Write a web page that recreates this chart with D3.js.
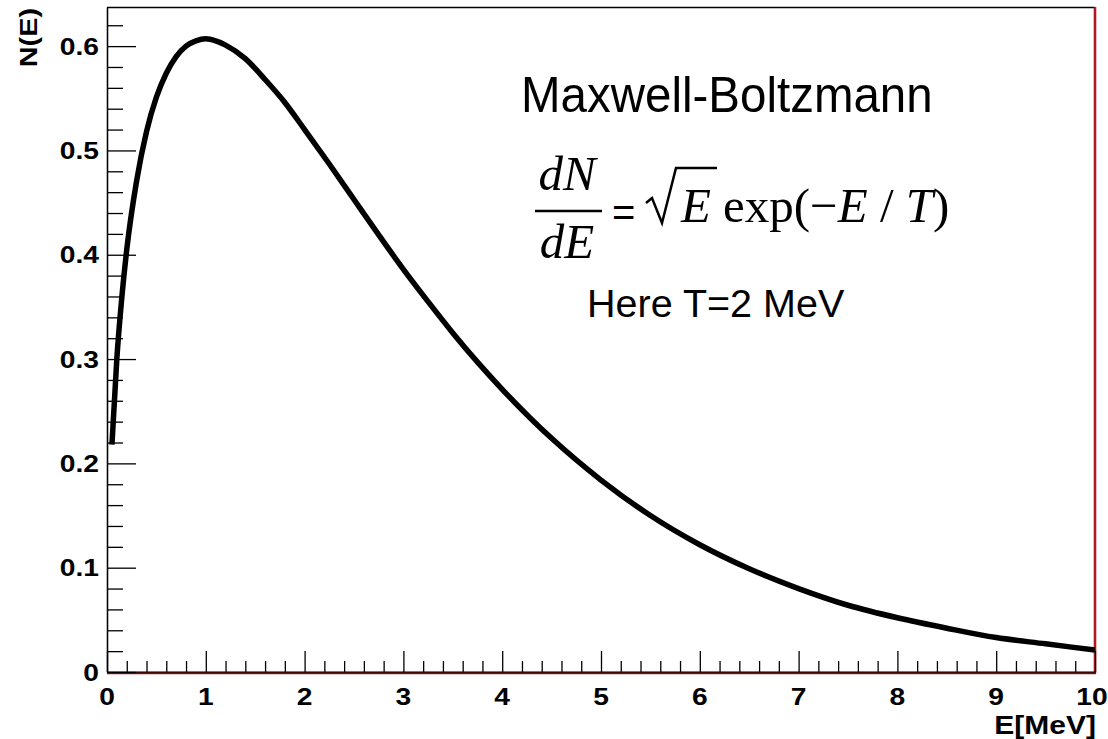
<!DOCTYPE html>
<html>
<head>
<meta charset="utf-8">
<script src="https://cdn.jsdelivr.net/npm/d3@7"></script>
<style>
  html, body { margin: 0; padding: 0; background: #fff; }
  svg { display: block; }
</style>
</head>
<body>
<svg id="chart" width="1108" height="739"></svg>
<script>
// ---- data ----
const energy = [0.05,0.1,0.15,0.2,0.3,0.4,0.5,0.6,0.7,0.8,0.9,1.0,1.1,1.2,1.4,1.6,1.8,2.0,2.25,2.5,2.75,3.0,3.25,3.5,3.75,4.0,4.5,5.0,5.5,6.0,6.5,7.0,7.5,8.0,8.5,9.0,9.5,10.0];
const counts = [0.218,0.301,0.359,0.405,0.471,0.518,0.551,0.574,0.590,0.600,0.605,0.607,0.605,0.601,0.588,0.568,0.546,0.520,0.487,0.453,0.419,0.386,0.355,0.325,0.297,0.271,0.224,0.184,0.150,0.122,0.099,0.080,0.064,0.052,0.042,0.033,0.027,0.021];
const xTicks = [0,1,2,3,4,5,6,7,8,9,10];
const xTickLabels = ["0","1","2","3","4","5","6","7","8","9","10"];
const yTicks = [0,0.1,0.2,0.3,0.4,0.5,0.6];
const yTickLabels = ["0","0.1","0.2","0.3","0.4","0.5","0.6"];
const xTitle = "E[MeV]";
const yTitle = "N(E)";
const title = "Maxwell-Boltzmann";
const note = "Here T=2 MeV";

// ---- layout ----
const svg = d3.select("#chart");
const L = 107, R = 1095, T = 7, B = 672;
const x = d3.scaleLinear().domain([0, 10]).range([L, R]);
const y = d3.scaleLinear().domain([0, 0.6375]).range([B, T]);

const boldFont = "'Liberation Sans', Arial, Helvetica, sans-serif";

// frame: top black, right red
svg.append("line").attr("x1", L).attr("x2", R).attr("y1", T + 0.5).attr("y2", T + 0.5)
  .attr("stroke", "#000").attr("stroke-width", 1.3);
svg.append("line").attr("x1", R).attr("x2", R).attr("y1", T).attr("y2", B + 1)
  .attr("stroke", "#b01822").attr("stroke-width", 2.6);
// bottom red under the axis
svg.append("line").attr("x1", L).attr("x2", R + 1).attr("y1", B + 1).attr("y2", B + 1)
  .attr("stroke", "#b01822").attr("stroke-width", 2.4);

// minor ticks
const xMinor = d3.range(0, 10.001, 0.2).filter(v => Math.abs(v - Math.round(v)) > 1e-6);
const yMinor = d3.range(0, 0.6375, 0.02).filter(v => Math.abs(v * 10 - Math.round(v * 10)) > 1e-6);

const styleAxis = g => {
  g.selectAll("path.domain").attr("stroke", "#000").attr("stroke-width", 1.3);
  g.selectAll(".tick line").attr("stroke", "#000").attr("stroke-width", 1.3);
  g.selectAll("text").remove();
};

svg.append("g").attr("transform", `translate(0,${B})`)
  .call(d3.axisBottom(x).tickValues(xMinor).tickSize(-11).tickSizeOuter(0).tickFormat(""))
  .call(styleAxis);
svg.append("g").attr("transform", `translate(0,${B})`)
  .call(d3.axisBottom(x).tickValues(xTicks).tickSize(-21).tickSizeOuter(0).tickFormat(""))
  .call(styleAxis)
  .call(g => g.select("path.domain").attr("stroke", "#3a0a0a"));
svg.append("g").attr("transform", `translate(${L},0)`)
  .call(d3.axisLeft(y).tickValues(yMinor).tickSize(-16).tickSizeOuter(0).tickFormat(""))
  .call(styleAxis);
svg.append("g").attr("transform", `translate(${L},0)`)
  .call(d3.axisLeft(y).tickValues(yTicks).tickSize(-29).tickSizeOuter(0).tickFormat(""))
  .call(styleAxis);

// tick labels (bold, wide Helvetica look)
svg.append("g").selectAll("text").data(xTicks).join("text")
  .attr("transform", d => `translate(${Math.min(x(d), 1092)},${B + 33}) scale(1.2,1)`)
  .attr("text-anchor", "middle")
  .attr("font-family", boldFont).attr("font-weight", "bold").attr("font-size", 23.5)
  .text((d, i) => xTickLabels[i]);
svg.append("g").selectAll("text").data(yTicks).join("text")
  .attr("transform", d => `translate(99,${y(d) + 8.5}) scale(1.2,1)`)
  .attr("text-anchor", "end")
  .attr("font-family", boldFont).attr("font-weight", "bold").attr("font-size", 23.5)
  .text((d, i) => yTickLabels[i]);

// axis titles
svg.append("text")
  .attr("transform", `translate(1096,734) scale(1.2,1)`)
  .attr("text-anchor", "end")
  .attr("font-family", boldFont).attr("font-weight", "bold").attr("font-size", 25)
  .text(xTitle);
svg.append("text")
  .attr("transform", `translate(37,8) rotate(-90) scale(1.2,1)`)
  .attr("text-anchor", "end")
  .attr("font-family", boldFont).attr("font-weight", "bold").attr("font-size", 24)
  .text(yTitle);

// curve
const pts = energy.map((e, i) => [e, counts[i]]);
svg.append("path")
  .datum(pts)
  .attr("fill", "none")
  .attr("stroke", "#000")
  .attr("stroke-width", 5.5)
  .attr("stroke-linejoin", "round")
  .attr("d", d3.line().x(d => x(d[0])).y(d => y(d[1])).curve(d3.curveMonotoneX));

// annotations
const sans = "'Liberation Sans', Arial, Helvetica, sans-serif";
const serif = "'Liberation Serif', 'Times New Roman', serif";
svg.append("text").attr("transform", "translate(521,112) scale(0.95,1)")
  .attr("font-family", sans).attr("font-size", 50).attr("fill", "#000").text(title);

// formula dN/dE = sqrt(E) exp(-E / T)
const fsz = 49;
svg.append("text").attr("x", 567).attr("y", 190).attr("text-anchor", "middle")
  .attr("font-family", serif).attr("font-style", "italic").attr("font-size", fsz).text("dN");
svg.append("line").attr("x1", 535).attr("x2", 602).attr("y1", 211).attr("y2", 211)
  .attr("stroke", "#000").attr("stroke-width", 2.5);
svg.append("text").attr("x", 567).attr("y", 258).attr("text-anchor", "middle")
  .attr("font-family", serif).attr("font-style", "italic").attr("font-size", fsz).text("dE");
svg.append("text").attr("x", 612).attr("y", 226)
  .attr("font-family", sans).attr("font-size", 40).text("=");
svg.append("path")
  .attr("d", "M646,203 L652,198 L662,223 L676,168 L717,168")
  .attr("fill", "none").attr("stroke", "#000").attr("stroke-width", 2.5).attr("stroke-linejoin", "miter");
svg.append("text").attr("x", 681).attr("y", 222)
  .attr("font-family", serif).attr("font-style", "italic").attr("font-size", fsz).text("E");
const f = svg.append("text").attr("x", 723).attr("y", 222)
  .attr("font-family", serif).attr("font-size", fsz);
f.append("tspan").text("exp(\u2212");
f.append("tspan").attr("font-style", "italic").text("E");
f.append("tspan").text(" / ");
f.append("tspan").attr("font-style", "italic").text("T");
f.append("tspan").text(")");

svg.append("text").attr("x", 587).attr("y", 317)
  .attr("font-family", sans).attr("font-size", 39.5).attr("fill", "#000").text(note);
</script>
</body>
</html>
